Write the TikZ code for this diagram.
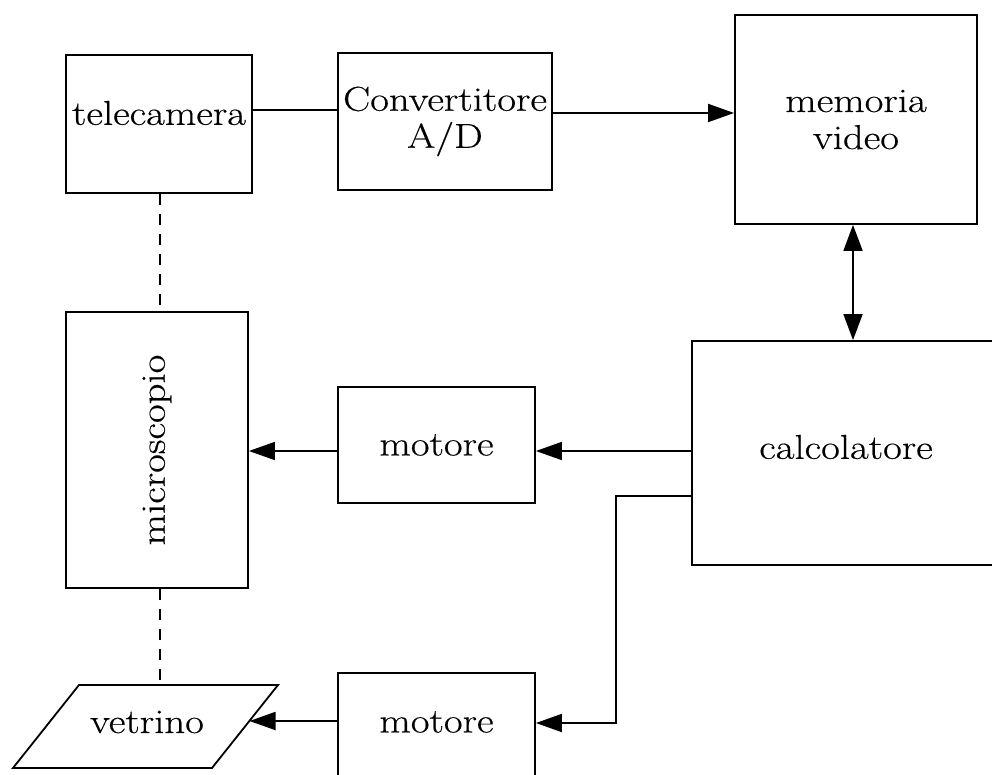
\documentclass[tikz,border=0pt]{standalone}
\usepackage{fontspec}
\setmainfont{Latin Modern Roman}[FakeStretch=1.18,FakeBold=0.4]
\usetikzlibrary{arrows.meta}
\begin{document}
\begin{tikzpicture}[x=1pt,y=-1pt,
  every node/.style={font=\fontsize{34.5}{37}\selectfont},
  blk/.style={draw,line width=1.8pt,inner sep=0pt,align=center},
  conn/.style={line width=1.8pt},
  arr/.style={conn,-{Triangle[length=26pt,width=18pt]}},
  darr/.style={conn,{Triangle[length=26pt,width=19pt]}-{Triangle[length=26pt,width=19pt]}},
  dsh/.style={conn,dash pattern=on 11pt off 9pt}]
\useasboundingbox (0,0) rectangle (992,775);
\clip (0,0) rectangle (992,775);
\fill[white] (0,0) rectangle (992,775);
% boxes
\node[blk,minimum width=186pt,minimum height=138pt] (tele) at (159,124) {};
\node (teletxt) at (159,113) {telecamera};
\node[blk,minimum width=214pt,minimum height=137pt] (conv) at (445,121.5) {Convertitore\\A/D};
\node[blk,minimum width=242pt,minimum height=209pt] (mem) at (856,119.5) {memoria\\video};
\node[blk,minimum width=308pt,minimum height=224pt] (calc) at (846,453) {};
\node (calctxt) at (846,447) {calcolatore};
\node[blk,minimum width=182pt,minimum height=276pt] (micro) at (157,450) {};
\node[rotate=90] (microtxt) at (157,450) {microscopio};
\node[blk,minimum width=197pt,minimum height=116pt] (mot1) at (436.5,445) {motore};
\node[blk,minimum width=197pt,minimum height=116pt] (mot2) at (436.5,731) {};
\node (mot2txt) at (436.5,722) {motore};
% vetrino parallelogram
\coordinate (p1) at (79,685);
\coordinate (p2) at (278,685);
\coordinate (p3) at (212,768);
\coordinate (p4) at (13,768);
\draw[line width=1.8pt,line join=miter] (p1) -- (p2) -- (p3) -- (p4) -- cycle;
\node (vetr) at (147,722) {vetrino};
\coordinate (vr) at (249.5,721);
\coordinate (vt) at (160,685);
% connectors
\draw[conn] (tele.east |- 0,110) -- (conv.west |- 0,110);
\draw[arr] (conv.east |- 0,113) -- (mem.west |- 0,113);
\draw[darr] (mem.south -| 853,0) -- (calc.north -| 853,0);
\draw[arr] (calc.west |- 0,451) -- (mot1.east |- 0,451);
\draw[arr] (mot1.west |- 0,451) -- (micro.east |- 0,451);
\draw[arr] (calc.west |- 0,496) -- ++(-75,0) |- (mot2.east |- 0,723);
\draw[arr] (mot2.west |- 0,721) -- (vr);
\draw[dsh] (tele.south -| 160,0) -- (micro.north -| 160,0);
\draw[dsh] (micro.south -| 160,0) -- (vt);
\end{tikzpicture}
\end{document}
